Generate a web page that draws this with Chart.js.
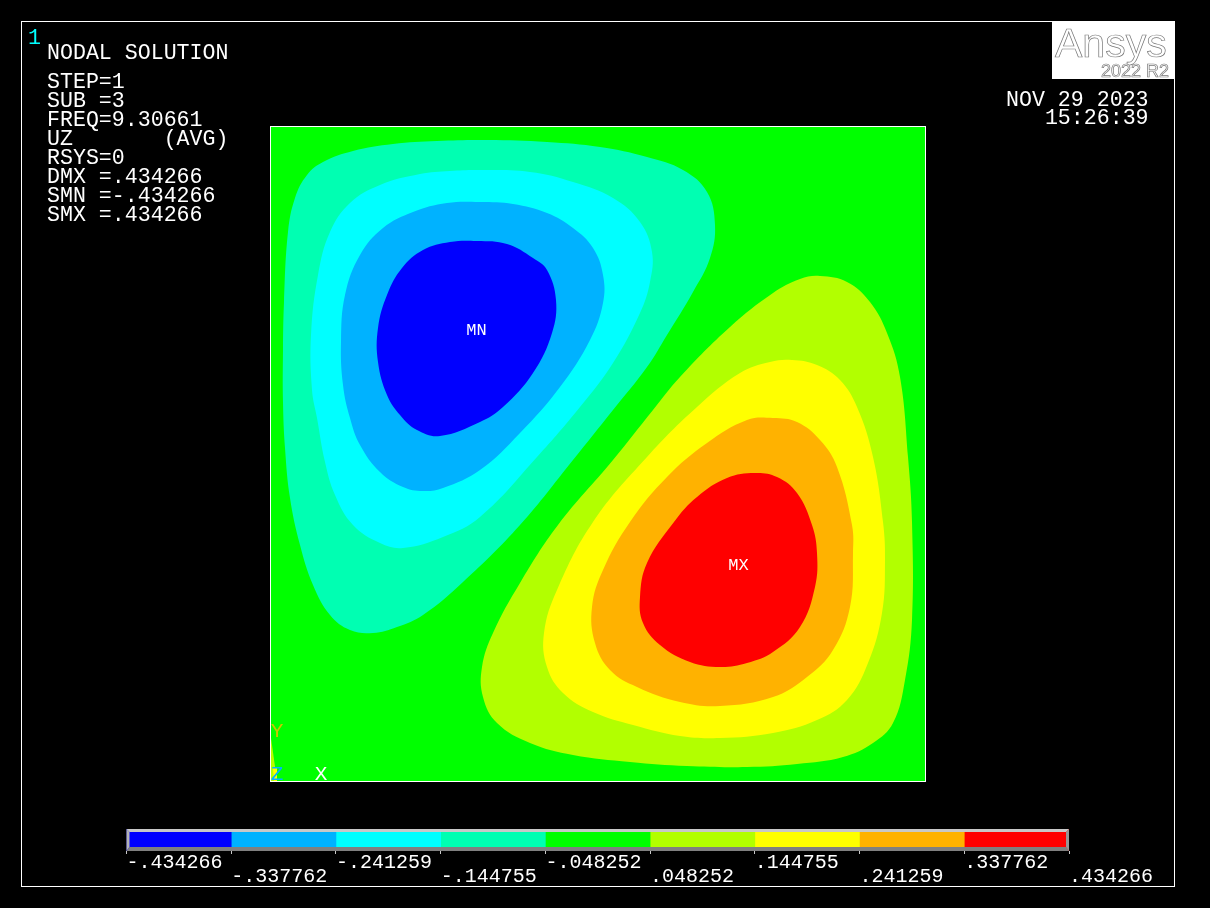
<!DOCTYPE html>
<html>
<head>
<meta charset="utf-8">
<title>Nodal solution</title>
<script src="https://cdn.jsdelivr.net/npm/chart.js@4"></script>
<style>
    html, body { margin: 0; padding: 0; background: #000; }
    body { position: relative; width: 1210px; height: 908px; overflow: hidden; font-family: "Liberation Mono", monospace; color: #fff; }
    canvas { position: absolute; left: 0; }
    #frame { position: absolute; left: 21px; top: 21px; width: 1154px; height: 866px; box-sizing: border-box; border: 1px solid #fff; }
    .txt { position: absolute; white-space: pre; font-size: 21.6px; }
    #logo { position: absolute; left: 1052px; top: 22px; width: 122px; height: 57px; background: #fff; }
    #logo span { position: absolute; font-family: "Liberation Sans", sans-serif; color: #fff; -webkit-text-stroke: 0.7px #777; white-space: pre; }
</style>
</head>
<body>
<div id="frame"></div>
<canvas id="plateChart" width="1210" height="908" style="top:0"></canvas>
<canvas id="legendChart" width="1210" height="90" style="top:810px"></canvas>
<div class="txt" style="left:28px;top:29px;line-height:19px;color:#00ffff">1</div>
<div class="txt" style="left:47px;top:44px;line-height:19px">NODAL SOLUTION</div>
<div class="txt" id="info" style="left:47px;top:73px;line-height:19px"></div>
<div class="txt" id="stamp" style="left:1006px;top:91px;line-height:18px"></div>
<div id="logo">
    <span style="left:3px;top:-2px;font-size:41px">Ansys</span>
    <span style="left:49px;top:39px;font-size:18px">2022 R2</span>
</div>
<script>
// Text block of the result
const infoLines = ['STEP=1', 'SUB =3', 'FREQ=9.30661', 'UZ       (AVG)', 'RSYS=0', 'DMX =.434266', 'SMN =-.434266', 'SMX =.434266'];
const stampLines = ['NOV 29 2023', '   15:26:39'];

// Contour levels and colours of the legend
const levels = [-0.434266, -0.337762, -0.241259, -0.144755, -0.048252, 0.048252, 0.144755, 0.241259, 0.337762, 0.434266];
const levelLabels = ['-.434266', '-.337762', '-.241259', '-.144755', '-.048252', '.048252', '.144755', '.241259', '.337762', '.434266'];
const bandColors = ['#0000ff', '#00b2ff', '#00ffff', '#00ffb2', '#00ff00', '#b2ff00', '#ffff00', '#ffb200', '#ff0000'];

// Plate side, contours as [x, y] on the plate
const plateSize = 654;
const band4Neg = [[166,640],[216,641],[276,639],[329,634],[376,624],[412,611],[436,589],[444,556],[439,523],[422,489],[396,446],[376,414],[342,371],[302,321],[249,256],[192,199],[152,166],[126,154],[102,148],[79,151],[59,166],[42,196],[29,236],[19,283],[14,333],[12,379],[12,431],[13,479],[17,549],[24,583],[36,606],[52,619],[82,630],[122,637]];
const band3Neg = [[209,611],[259,609],[302,599],[342,583],[369,559],[381,529],[379,499],[369,468],[342,418],[309,374],[266,324],[209,264],[172,244],[132,233],[109,238],[82,256],[64,286],[54,319],[46,363],[41,391],[40,446],[47,506],[59,549],[79,578],[109,596],[149,607],[179,610]];
const band2Neg = [[209,579],[242,577],[276,568],[302,553],[322,533],[332,506],[332,478],[319,441],[289,394],[249,348],[209,311],[172,293],[152,290],[132,294],[109,309],[89,336],[79,363],[72,396],[70,439],[74,486],[89,526],[112,553],[142,569],[176,578]];
const band1Neg = [[206,540],[236,537],[262,523],[276,511],[285,481],[281,448],[262,408],[232,374],[209,359],[169,345],[146,351],[129,366],[116,386],[107,419],[107,453],[116,486],[131,513],[152,531],[179,539]];
const band6Pos = [[549,505],[576,499],[599,479],[616,448],[629,404],[637,324],[641,259],[641,161],[634,101],[622,58],[602,38],[572,24],[526,17],[476,14],[416,15],[359,19],[302,26],[259,38],[226,58],[212,84],[211,114],[222,148],[249,198],[287,256],[342,321],[382,371],[409,404],[459,454],[502,488],[529,502]];
const band7Pos = [[521,421],[546,416],[569,401],[586,374],[602,324],[612,259],[614,221],[611,168],[597,118],[576,81],[546,61],[502,48],[449,43],[409,45],[362,56],[322,69],[292,88],[276,114],[273,148],[286,191],[322,259],[376,324],[426,374],[469,408],[499,419]];
const band8Pos = [[502,363],[526,359],[549,341],[566,314],[581,256],[582,228],[579,174],[562,131],[536,104],[502,84],[449,75],[409,79],[366,94],[339,111],[324,138],[321,174],[332,211],[359,259],[396,304],[436,338],[476,361]];
const band9Pos = [[484,308],[506,304],[526,288],[541,256],[546,228],[544,194],[529,154],[502,129],[476,118],[449,114],[419,119],[389,136],[372,158],[369,184],[376,218],[403,259],[426,284],[456,303]];
const cornerLime = [[0,43],[6,0],[0,0]];
const cornerYellow = [[2,13],[6,13],[6,0],[3,0]];

// Labels placed on the plate
const plateLabels = [
    { text: 'MN', x: 205.5, y: 450.5, size: 17, color: '#ffffff' },
    { text: 'MX', x: 467.5, y: 215.5, size: 17, color: '#ffffff' },
    { text: 'Y', x: 6, y: 50, size: 21, color: '#c8c800' },
    { text: 'Z', x: 6, y: 7, size: 21, color: '#00b2ff' },
    { text: 'X', x: 50, y: 7, size: 21, color: '#ffffff' }
];

document.getElementById('info').textContent = infoLines.join('\n');
document.getElementById('stamp').textContent = stampLines.join('\n');

function contourDataset(points, color, tension) {
    // wrap round the seam so the curve stays smooth where it closes
    const n = points.length;
    const closed = tension ? [points[n - 1], ...points, points[0], points[1]] : points;
    return {
        data: closed.map(p => ({ x: p[0], y: p[1] })),
        showLine: true,
        fill: 'shape',
        backgroundColor: color,
        borderWidth: 0,
        pointRadius: 0,
        tension: tension
    };
}

// Chart.js paints the first dataset last, so the innermost contours go first
const plateDatasets = [
    contourDataset(band1Neg, bandColors[0], 0.4),
    contourDataset(band2Neg, bandColors[1], 0.4),
    contourDataset(band3Neg, bandColors[2], 0.4),
    contourDataset(band4Neg, bandColors[3], 0.4),
    contourDataset(band9Pos, bandColors[8], 0.4),
    contourDataset(band8Pos, bandColors[7], 0.4),
    contourDataset(band7Pos, bandColors[6], 0.4),
    contourDataset(band6Pos, bandColors[5], 0.4),
    contourDataset(cornerYellow, bandColors[6], 0),
    contourDataset(cornerLime, bandColors[5], 0)
];

// Green plate behind the contours, white edge and labels on top
const platePlugin = {
    id: 'plate',
    beforeDatasetsDraw(chart) {
        const { ctx, chartArea: { left, top, width, height } } = chart;
        ctx.save();
        ctx.fillStyle = bandColors[4];
        ctx.fillRect(left, top, width, height);
        ctx.restore();
    },
    afterDatasetsDraw(chart) {
        const { ctx, chartArea: { left, top, width, height }, scales: { x, y } } = chart;
        ctx.save();
        ctx.strokeStyle = '#ffffff';
        ctx.lineWidth = 1;
        ctx.strokeRect(left - 0.5, top - 0.5, width + 1, height + 1);
        ctx.textAlign = 'center';
        ctx.textBaseline = 'middle';
        plateLabels.forEach(l => {
            ctx.font = l.size + 'px "Liberation Mono"';
            ctx.fillStyle = l.color;
            ctx.fillText(l.text, x.getPixelForValue(l.x), y.getPixelForValue(l.y));
        });
        ctx.restore();
    }
};

new Chart(document.getElementById('plateChart'), {
    type: 'scatter',
    data: { datasets: plateDatasets },
    options: {
        responsive: false,
        animation: false,
        events: [],
        layout: { padding: { left: 271, right: 285, top: 127, bottom: 127 } },
        scales: {
            x: { type: 'linear', display: false, min: 0, max: plateSize },
            y: { type: 'linear', display: false, min: 0, max: plateSize }
        },
        plugins: { legend: { display: false }, tooltip: { enabled: false } }
    },
    plugins: [platePlugin]
});

// Bevel around the colour bar
const bevelPlugin = {
    id: 'bevel',
    afterDatasetsDraw(chart) {
        const { ctx, chartArea: { left: l, right: r, top: t, bottom: b } } = chart;
        const side = 3, low = 4;
        const quad = (color, pts) => {
            ctx.fillStyle = color;
            ctx.beginPath();
            pts.forEach((p, i) => i ? ctx.lineTo(p[0], p[1]) : ctx.moveTo(p[0], p[1]));
            ctx.closePath();
            ctx.fill();
        };
        ctx.save();
        quad('#c8c8c8', [[l, t], [r, t], [r - side, t + side], [l + side, t + side]]);
        quad('#b4b4b4', [[l, t], [l + side, t + side], [l + side, b - low], [l, b]]);
        quad('#808080', [[l, b], [l + side, b - low], [r - side, b - low], [r, b]]);
        quad('#969696', [[r, t], [r, b], [r - side, b - low], [r - side, t + side]]);
        ctx.restore();
    }
};

new Chart(document.getElementById('legendChart'), {
    type: 'bar',
    data: {
        labels: [''],
        datasets: bandColors.map((c, i) => ({
            data: [[levels[i], levels[i + 1]]],
            backgroundColor: c,
            borderWidth: 0,
            grouped: false,
            barPercentage: 1,
            categoryPercentage: 1
        }))
    },
    options: {
        indexAxis: 'y',
        responsive: false,
        animation: false,
        events: [],
        layout: { padding: { left: 126.5, right: 141, top: 19, bottom: 10 } },
        scales: {
            y: { display: false },
            x: {
                type: 'linear',
                min: levels[0],
                max: levels[levels.length - 1],
                afterBuildTicks: scale => { scale.ticks = levels.map(v => ({ value: v })); },
                afterFit: scale => { scale.height = 39; },
                border: { display: false },
                grid: { drawOnChartArea: false, color: '#c8c8c8', tickLength: 3, tickWidth: 1 },
                ticks: {
                    autoSkip: false,
                    maxRotation: 0,
                    minRotation: 0,
                    align: 'start',
                    padding: 1.5,
                    color: '#ffffff',
                    font: { family: '"Liberation Mono"', size: 20, lineHeight: '14px' },
                    // every other label sits one row lower
                    callback: (value, i) => i % 2 ? ['', levelLabels[i]] : levelLabels[i]
                }
            }
        },
        plugins: { legend: { display: false }, tooltip: { enabled: false } }
    },
    plugins: [bevelPlugin]
});
</script>
</body>
</html>
